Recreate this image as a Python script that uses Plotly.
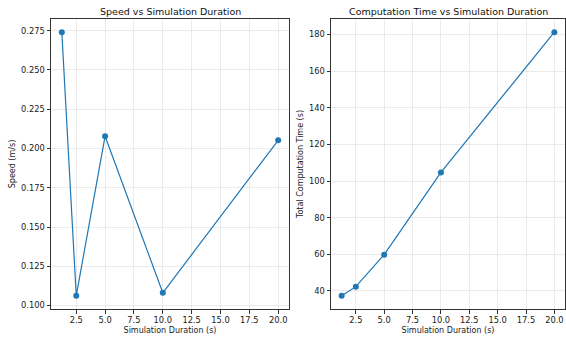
import plotly.graph_objects as go

durations = [1.25, 2.5, 5.0, 10.0, 20.0]
speeds = [0.2740, 0.1062, 0.2078, 0.1081, 0.2052]
comp_times = [37.3, 42.3, 59.8, 104.7, 181.3]

left_title = "Speed vs Simulation Duration"
right_title = "Computation Time vs Simulation Duration"
x_label = "Simulation Duration (s)"
left_ylabel = "Speed (m/s)"
right_ylabel = "Total Computation Time (s)"

x_ticks = [2.5, 5.0, 7.5, 10.0, 12.5, 15.0, 17.5, 20.0]
left_yticks = [0.100, 0.125, 0.150, 0.175, 0.200, 0.225, 0.250, 0.275]
right_yticks = [40, 60, 80, 100, 120, 140, 160, 180]

color = "#1f77b4"
font = "DejaVu Sans"
tick_font = dict(family=font, size=8.3, color="#222222")
label_font = dict(family=font, size=8.0, color="#222222")

fig = go.Figure()
fig.add_trace(go.Scatter(x=durations, y=speeds, mode="lines+markers",
                         line=dict(color=color, width=1.2),
                         marker=dict(color=color, size=6, symbol="circle"),
                         xaxis="x", yaxis="y", showlegend=False))
fig.add_trace(go.Scatter(x=durations, y=comp_times, mode="lines+markers",
                         line=dict(color=color, width=1.2),
                         marker=dict(color=color, size=6, symbol="circle"),
                         xaxis="x2", yaxis="y2", showlegend=False))

def axis_common():
    return dict(showline=True, linecolor="#333333", linewidth=1, mirror=True,
                showgrid=True, gridcolor="rgba(176,176,176,0.25)", gridwidth=0.8,
                zeroline=False, ticks="outside", ticklen=3.5, tickcolor="#333333",
                tickfont=tick_font)

xfmt = [f"{v:.1f}" for v in x_ticks]
ydom = [1 - 309 / 338, 1 - 19 / 338]

fig.update_layout(
    width=566, height=338,
    margin=dict(l=0, r=0, t=0, b=0),
    paper_bgcolor="white", plot_bgcolor="white",
    font=dict(family=font, color="#222222"),
    xaxis=dict(domain=[51 / 566, 289 / 566], range=[0.3125, 20.9375],
               tickvals=x_ticks, ticktext=xfmt,
               title=dict(text=x_label, font=label_font, standoff=2),
               anchor="y", **axis_common()),
    yaxis=dict(domain=ydom, range=[0.0978, 0.2824],
               tickvals=left_yticks, ticktext=[f"{v:.3f}" for v in left_yticks],
               title=dict(text=left_ylabel, font=label_font, standoff=4),
               anchor="x", **axis_common()),
    xaxis2=dict(domain=[331 / 566, 565 / 566], range=[0.3125, 20.9375],
                tickvals=x_ticks, ticktext=xfmt,
                title=dict(text=x_label, font=label_font, standoff=2),
                anchor="y2", **axis_common()),
    yaxis2=dict(domain=ydom, range=[30.1, 188.5],
                tickvals=right_yticks, ticktext=[str(v) for v in right_yticks],
                title=dict(text=right_ylabel, font=label_font, standoff=4),
                anchor="x2", **axis_common()),
    annotations=[
        dict(text=left_title, x=(51 + 289) / 2 / 566, y=1 - 11 / 338,
             xref="paper", yref="paper", showarrow=False,
             font=dict(family=font, size=9.5, color="#111111"), xanchor="center", yanchor="middle"),
        dict(text=right_title, x=(331 + 565) / 2 / 566, y=1 - 11 / 338,
             xref="paper", yref="paper", showarrow=False,
             font=dict(family=font, size=9.5, color="#111111"), xanchor="center", yanchor="middle"),
    ],
)

fig.write_html("out.html", config={"displayModeBar": False},
               post_script="document.body.style.margin='0';document.body.style.overflow='hidden';")
